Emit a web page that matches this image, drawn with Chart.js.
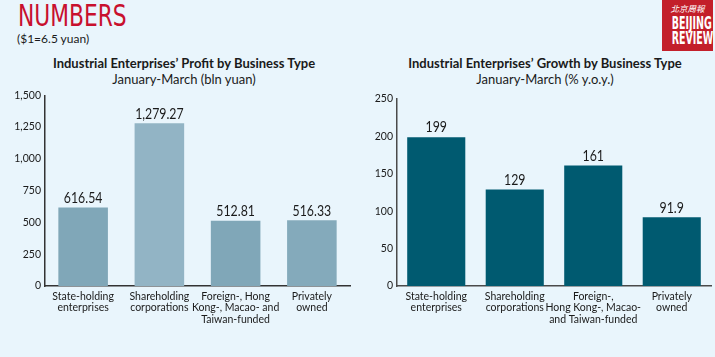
<!DOCTYPE html>
<html><head><meta charset="utf-8">
<script src="https://cdn.jsdelivr.net/npm/chart.js@4/dist/chart.umd.min.js"></script>
<style>
html,body{margin:0;padding:0;}
body{width:715px;height:357px;background:#e9f5fc;position:relative;overflow:hidden;font-family:"Lato",sans-serif;color:#1a1a1a;}
#hdr{position:absolute;left:18px;top:-3px;font-family:"Liberation Sans Narrow","DejaVu Sans Condensed",sans-serif;font-size:31px;color:#c8102e;transform:scaleX(0.78);transform-origin:left top;white-space:nowrap;}
#rate{position:absolute;left:17px;top:31px;font-size:12px;}
.t{position:absolute;text-align:center;width:360px;font-size:13px;font-weight:bold;top:55px;}
.s{position:absolute;text-align:center;width:360px;font-size:13px;top:71px;}
#logo{position:absolute;left:662px;top:0;width:51px;height:51px;background:#c31f2a;color:#fff;overflow:hidden;}
#logo .cn{font-family:"Noto Sans CJK TC",sans-serif;font-size:8.5px;line-height:10px;margin-top:3px;font-style:italic;text-align:center;}
#logo .en{font-family:"Liberation Sans Narrow","DejaVu Sans Condensed",sans-serif;font-weight:bold;font-size:17px;line-height:15px;transform:scaleX(0.62);transform-origin:center top;text-align:center;white-space:nowrap;margin-top:3px;}
canvas{position:absolute;}
</style></head><body>
<div id="hdr">NUMBERS</div>
<div id="rate">($1=6.5 yuan)</div>
<div class="t" style="left:4px">Industrial Enterprises’ Profit by Business Type</div>
<div class="s" style="left:4px">January-March (bln yuan)</div>
<div class="t" style="left:365px">Industrial Enterprises’ Growth by Business Type</div>
<div class="s" style="left:365px">January-March (% y.o.y.)</div>
<div id="logo"><div class="cn">北京周報</div><div class="en">BEIJING<br>REVIEW</div></div>
<div style="position:absolute;left:0;top:85px;width:360px;height:272px"><canvas id="c1"></canvas></div>
<div style="position:absolute;left:360px;top:85px;width:355px;height:272px"><canvas id="c2"></canvas></div>
<script>
const categoriesProfit = [["State-holding","enterprises"],["Shareholding","corporations"],["Foreign-, Hong","Kong-, Macao- and","Taiwan-funded"],["Privately","owned"]];
const profitValues = [616.54, 1279.27, 512.81, 516.33];
const profitLabels = ["616.54","1,279.27","512.81","516.33"];
const categoriesGrowth = [["State-holding","enterprises"],["Shareholding","corporations"],["Foreign-,","Hong Kong-, Macao-","and Taiwan-funded"],["Privately","owned"]];
const growthValues = [199, 129, 161, 91.9];
const growthLabels = ["199","129","161","91.9"];
const profitTicks = {min:0,max:1500,step:250};
const growthTicks = {min:0,max:250,step:50};

const FONT = '"Lato", sans-serif';
const valueLabelPlugin = {
  id:'valueLabels',
  afterDatasetsDraw(chart, args, opts){
    const ctx = chart.ctx;
    const meta = chart.getDatasetMeta(0);
    ctx.save();
    ctx.font = '15px ' + FONT;
    ctx.fillStyle = '#1a1a1a';
    ctx.textAlign = 'center';
    ctx.textBaseline = 'bottom';
    meta.data.forEach((bar,i)=>{
      ctx.save();
      ctx.translate(bar.x, bar.y - 2);
      ctx.scale(0.82, 1);
      ctx.fillText(opts.labels[i], 0, 0);
      ctx.restore();
    });
    ctx.restore();
  }
};

function make(id, cats, vals, labels, colors, ticks, yWidth, padRight, barPct, topPad, axisColor){
  return new Chart(document.getElementById(id), {
    type:'bar',
    data:{labels:cats, datasets:[{data:vals, backgroundColor:colors, borderWidth:0, barPercentage:barPct, categoryPercentage:1}]},
    plugins:[valueLabelPlugin],
    options:{
      responsive:true, maintainAspectRatio:false, animation:false,
      layout:{padding:{left:0,right:padRight,top:topPad,bottom:0}},
      plugins:{legend:{display:false},tooltip:{enabled:false},title:{display:false},valueLabels:{labels:labels}},
      scales:{
        x:{
          grid:{display:false,drawTicks:false},
          border:{display:true,color:axisColor,width:1.5},
          ticks:{color:'#1a1a1a',font:{family:FONT,size:10.5,lineHeight:1.08},padding:5,maxRotation:0,autoSkip:false},
          afterFit(s){s.height=71;}
        },
        y:{
          min:ticks.min,max:ticks.max,
          grid:{display:false,drawTicks:false},
          border:{display:true,color:axisColor,width:1.5},
          ticks:{stepSize:ticks.step,color:'#1a1a1a',font:{family:FONT,size:10.5},padding:4,
            callback:v=>v.toLocaleString('en-US')},
          afterFit(s){s.width=yWidth;}
        }
      }
    }
  });
}
make('c1', categoriesProfit, profitValues, profitLabels, ['#80a7b8','#92b4c5','#80a7b8','#84aabb'], profitTicks, 45, 10, 0.65, 10, '#333333');
make('c2', categoriesGrowth, growthValues, growthLabels, '#005a70', growthTicks, 37, 4, 0.74, 14, '#4a4a4a');
</script>
</body></html>
